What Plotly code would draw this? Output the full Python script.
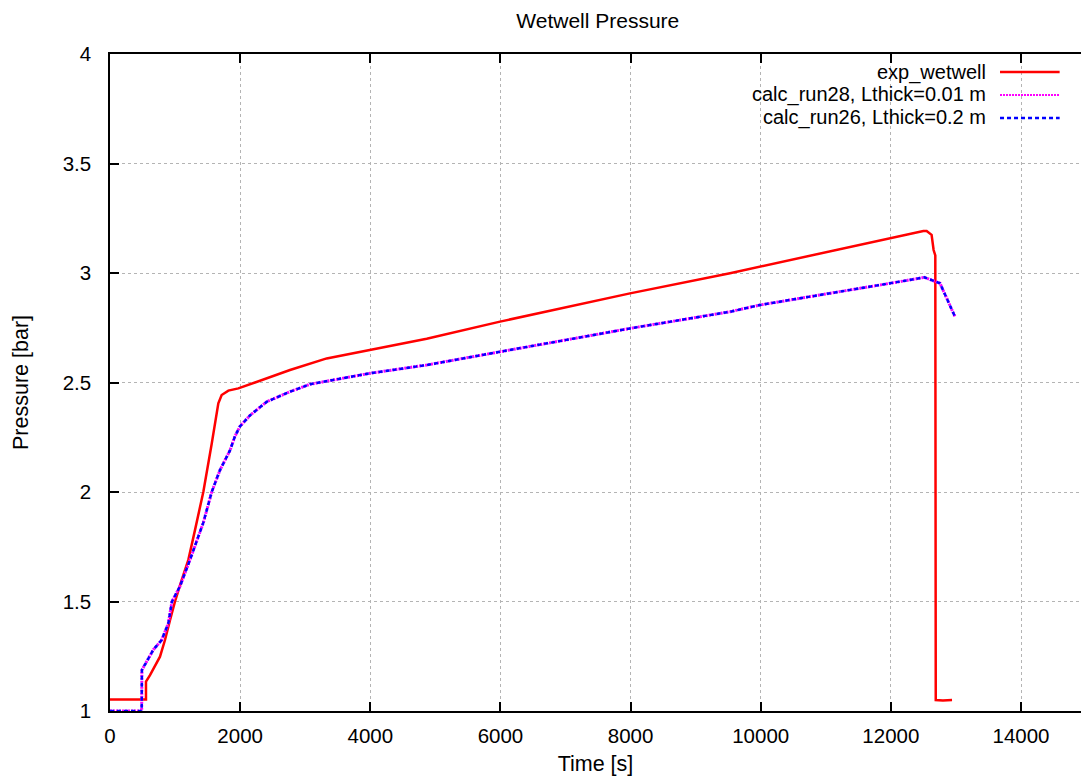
import plotly.graph_objects as go

# ---- data ----
exp_t = [0, 300, 553, 553, 615, 768, 845, 922, 999, 1101, 1204, 1306, 1434, 1563,
         1665, 1716, 1819, 1972, 2254, 2766, 3330, 3996, 4867, 5994, 7403, 7991,
         9528, 9989, 11987, 12499, 12550, 12626, 12657, 12683, 12690, 12800, 12940]
exp_p = [1.053, 1.053, 1.053, 1.134, 1.164, 1.248, 1.324, 1.415, 1.50, 1.598, 1.69,
         1.826, 2.0, 2.22, 2.405, 2.443, 2.463, 2.473, 2.504, 2.557, 2.61, 2.648,
         2.70, 2.778, 2.869, 2.907, 2.999, 3.029, 3.158, 3.192, 3.192, 3.174, 3.105,
         3.08, 1.05, 1.048, 1.05]

calc_t = [0, 487, 490, 589, 666, 794, 896, 953, 1076, 1229, 1434, 1563, 1690, 1844,
          1921, 1998, 2152, 2408, 2766, 3074, 3996, 4867, 5994, 7991, 9528, 9989,
          11987, 12515, 12755, 12986]
calc28_p = [1.0, 1.0, 1.187, 1.24, 1.28, 1.324, 1.40, 1.50, 1.57, 1.69, 1.86, 2.0,
            2.10, 2.19, 2.255, 2.30, 2.35, 2.412, 2.458, 2.492, 2.542, 2.58, 2.64,
            2.747, 2.823, 2.854, 2.953, 2.98, 2.953, 2.80]
calc26_p = list(calc28_p)

series_names = ["exp_wetwell", "calc_run28, Lthick=0.01 m", "calc_run26, Lthick=0.2 m"]
x_ticks = [0, 2000, 4000, 6000, 8000, 10000, 12000, 14000]
x_labels = ["0", "2000", "4000", "6000", "8000", "10000", "12000", "14000"]
y_ticks = [1, 1.5, 2, 2.5, 3, 3.5, 4]
y_labels = ["1", "1.5", "2", "2.5", "3", "3.5", "4"]

FONT = "Liberation Sans, Arial, sans-serif"
RED, MAG, BLUE = "#ff0000", "#ff00ff", "#0000ff"

fig = go.Figure()
fig.add_trace(go.Scatter(x=exp_t, y=exp_p, mode="lines", name=series_names[0],
                         line=dict(color=RED, width=2.5), showlegend=False))
fig.add_trace(go.Scatter(x=calc_t, y=calc28_p, mode="lines", name=series_names[1],
                         line=dict(color=MAG, width=3, dash="2px,1px"), showlegend=False))
fig.add_trace(go.Scatter(x=calc_t, y=calc26_p, mode="lines", name=series_names[2],
                         line=dict(color=BLUE, width=2.5, dash="4px,3px"), showlegend=False))

# custom gnuplot-style legend (text right, sample line after)
legend_rows = [0.9726, 0.9376, 0.9026]
legend_styles = [dict(color=RED, width=2.5), dict(color=MAG, width=2, dash="2px,1px"),
                 dict(color=BLUE, width=2.5, dash="4px,3px")]
for name, yy, st in zip(series_names, legend_rows, legend_styles):
    fig.add_annotation(text=name, xref="paper", yref="paper", x=0.903, y=yy,
                       xanchor="right", yanchor="middle", showarrow=False,
                       borderpad=0,
                       font=dict(family=FONT, size=20, color="#000000"))
    fig.add_shape(type="line", xref="paper", yref="paper", x0=0.9166, x1=0.978,
                  y0=yy, y1=yy, line=st)

axis_common = dict(showline=True, linecolor="#000000", linewidth=1.5,
                   ticks="inside", ticklen=9, tickwidth=1.5, tickcolor="#000000",
                   showgrid=True, gridcolor="#b4b4b4", gridwidth=1, griddash="dot",
                   zeroline=False, tickfont=dict(family=FONT, size=20.5, color="#000000"))

fig.update_layout(
    width=1081, height=776,
    margin=dict(l=110, r=0, t=54, b=65),
    paper_bgcolor="#ffffff", plot_bgcolor="#ffffff",
    title=dict(text="Wetwell Pressure", x=0.553, xanchor="center", y=0.974, yanchor="middle",
               font=dict(family=FONT, size=21, color="#000000")),
    xaxis=dict(range=[0, 14922], tickvals=x_ticks, ticktext=x_labels, mirror="ticks",
               title=dict(text="Time [s]", font=dict(family=FONT, size=21.5, color="#000000"),
                          standoff=10),
               ticklabelstandoff=6, **axis_common),
    yaxis=dict(range=[1, 4], tickvals=y_ticks, ticktext=y_labels, mirror=False,
               title=dict(text="Pressure [bar]", font=dict(family=FONT, size=21.5, color="#000000"),
                          standoff=28),
               ticklabelstandoff=13, **axis_common),
)

fig.write_html("out.html")
